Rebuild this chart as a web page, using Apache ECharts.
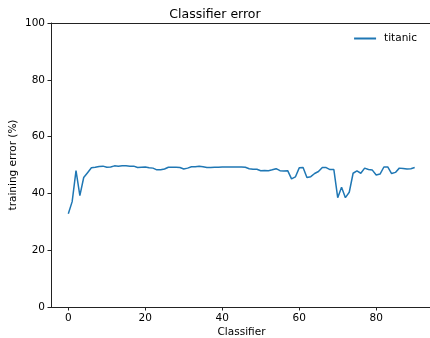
<!DOCTYPE html>
<html><head><meta charset="utf-8">
<script src="https://cdn.jsdelivr.net/npm/echarts@6/dist/echarts.min.js"></script>
<style>html,body{margin:0;padding:0;background:#fff}#c{width:430px;height:338px}</style>
</head><body><div id="c"></div>
<script>
const seriesName = 'titanic';
const errors = [32.8,37.1,48.0,39.2,45.6,47.3,49.0,49.2,49.5,49.6,
49.2,49.3,49.7,49.6,49.7,49.7,49.6,49.6,49.1,49.2,
49.3,49.0,48.9,48.3,48.3,48.6,49.2,49.2,49.2,49.1,
48.6,48.9,49.4,49.4,49.6,49.4,49.1,49.1,49.2,49.2,
49.3,49.3,49.3,49.3,49.3,49.3,49.2,48.7,48.5,48.5,
48.0,48.1,48.0,48.3,48.7,48.0,47.9,48.0,45.1,45.8,
49.0,49.1,45.6,45.9,47.0,47.7,49.1,49.1,48.4,48.4,
38.5,42.2,38.5,40.4,47.1,47.9,47.1,48.9,48.4,48.2,
46.5,46.8,49.3,49.3,47.0,47.4,48.9,48.8,48.6,48.7,49.1];
const xTicks = [0,20,40,60,80];
const data = errors.map((v,i)=>[i,v]);
const font = 'DejaVu Sans';
const axisColor = '#222';
const fs = 10.5;
const chart = echarts.init(document.getElementById('c'), null, {renderer:'canvas'});
chart.setOption({
  animation:false,
  backgroundColor:'#fff',
  title:{text:'Classifier error', left:'center', top:3, textStyle:{fontFamily:font, fontSize:12.5, fontWeight:'normal', color:'#000'}},
  legend:{right:8, top:28, itemWidth:22, itemHeight:2, itemGap:6, icon:'rect',
    textStyle:{fontFamily:font, fontSize:fs, color:'#000', padding:[0,0,0,3]}, data:[{name:seriesName, icon:'rect'}]},
  grid:{left:51, right:-2, top:23, bottom:31, show:false, containLabel:false, outerBoundsMode:'none'},
  xAxis:[{type:'value', min:-4.5, max:94.5, name:'Classifier', nameLocation:'middle', nameGap:20, nameMoveOverlap:false,
    nameTextStyle:{fontFamily:font, fontSize:fs, color:'#000'},
    axisLine:{show:true, onZero:false, lineStyle:{color:axisColor}},
    axisTick:{show:true, inside:false, length:3.5, customValues:xTicks, lineStyle:{color:axisColor}},
    axisLabel:{fontFamily:font, fontSize:fs, color:'#000', margin:6, customValues:xTicks},
    splitLine:{show:false}},
   {type:'value', position:'top', min:-4.5, max:94.5,
    axisLine:{show:true, onZero:false, lineStyle:{color:axisColor}},
    axisTick:{show:false}, axisLabel:{show:false}, splitLine:{show:false}}],
  yAxis:{type:'value', min:0, max:100, interval:20, name:'training error (%)', nameLocation:'middle', nameGap:32, nameMoveOverlap:false,
    nameTextStyle:{fontFamily:font, fontSize:fs, color:'#000'},
    axisLine:{show:true, onZero:false, lineStyle:{color:axisColor}},
    axisTick:{show:true, inside:false, length:3.5, lineStyle:{color:axisColor}},
    axisLabel:{fontFamily:font, fontSize:fs, color:'#000', margin:6},
    splitLine:{show:false}},
  series:[{name:seriesName, type:'line', xAxisIndex:0, data:data, showSymbol:false, symbol:'none',
    lineStyle:{color:'#1f77b4', width:1.5}, itemStyle:{color:'#1f77b4'}}]
});
</script></body></html>
